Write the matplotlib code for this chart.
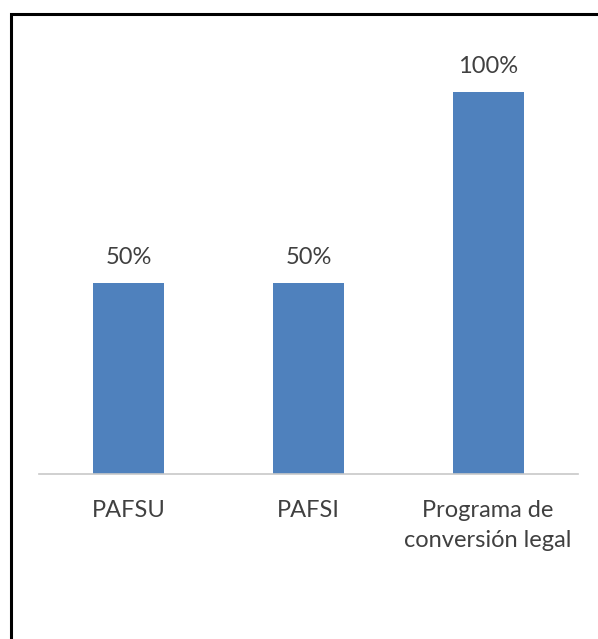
import matplotlib.pyplot as plt
from matplotlib.patches import Rectangle

categories = ["PAFSU", "PAFSI", "Programa de\nconversión legal"]
shares = [0.50, 0.50, 1.00]

plt.rcParams['font.family'] = ['Lato', 'DejaVu Sans']

fig = plt.figure(figsize=(5.98, 6.39), dpi=100)

# outer chart frame, running off the right and bottom edges
fig.patches.append(Rectangle((11 / 598, -0.1), 1.2, 1.1 - 14 / 639,
                             transform=fig.transFigure, fill=False,
                             edgecolor='black', linewidth=2.2))

ax = fig.add_axes([39 / 598, 165 / 639, 539 / 598, 382 / 639])
bars = ax.bar(range(len(categories)), shares, width=0.395, color='#4f81bd')
ax.set_xlim(-0.5, 2.5)
ax.set_ylim(0, 1.0)

for rect, val in zip(bars, shares):
    ax.text(rect.get_x() + rect.get_width() / 2, val + 0.05, f"{val:.0%}",
            ha='center', va='baseline', fontsize=17, color='#404040',
            clip_on=False)

ax.set_xticks(range(len(categories)))
ax.set_xticklabels(categories, fontsize=17, color='#404040', linespacing=1.5,
                   va='top')
ax.tick_params(axis='x', length=0, pad=19)
ax.set_yticks([])
for side in ['top', 'left', 'right']:
    ax.spines[side].set_visible(False)
ax.spines['bottom'].set_color('#c8c8c8')
ax.spines['bottom'].set_linewidth(1.2)

fig.savefig('out.png', dpi=100)
